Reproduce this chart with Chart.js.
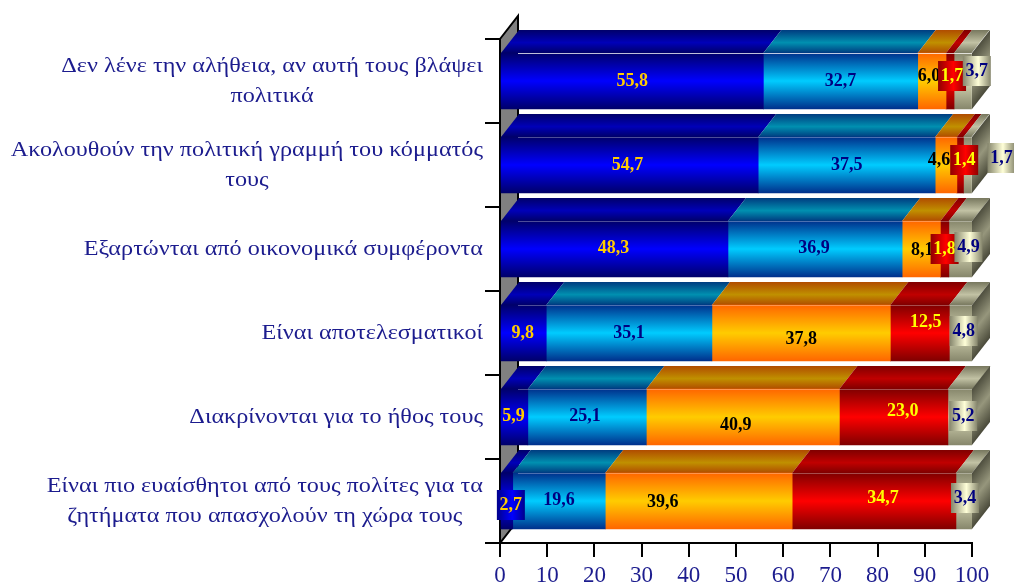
<!DOCTYPE html>
<html>
<head>
<meta charset="utf-8">
<style>
  html,body{margin:0;padding:0;background:#fff;}
  canvas{display:block;}
</style>
<script src="https://cdn.jsdelivr.net/npm/chart.js@4/dist/chart.umd.min.js"></script>
</head>
<body>
<canvas id="chart" width="1014" height="585"></canvas>
<script>
// categories, top to bottom
const categories = [
  ["Δεν λένε την αλήθεια, αν αυτή τους βλάψει","πολιτικά"],
  ["Ακολουθούν την πολιτική γραμμή του κόμματός","τους"],
  ["Εξαρτώνται από οικονομικά συμφέροντα"],
  ["Είναι αποτελεσματικοί"],
  ["Διακρίνονται για το ήθος τους"],
  ["Είναι πιο ευαίσθητοι από τους πολίτες για τα","ζητήματα που απασχολούν τη χώρα τους"]
];
const series1 = [55.8,54.7,48.3,9.8,5.9,2.7];
const series2 = [32.7,37.5,36.9,35.1,25.1,19.6];
const series3 = [6.0,4.6,8.1,37.8,40.9,39.6];
const series4 = [1.7,1.4,1.8,12.5,23.0,34.7];
const series5 = [3.7,1.7,4.9,4.8,5.2,3.4];
const xTicks = [0,10,20,30,40,50,60,70,80,90,100];

// colours: front edge, front middle, top edge, top middle, label text, box edge, box middle
const looks = [
  {edge:"#00006a",mid:"#0000ff",topE:"#00006a",topM:"#0000b8",text:"#ffcc00",boxE:"#00008c",boxM:"#0000ff"},
  {edge:"#00308c",mid:"#00ccff",topE:"#003c80",topM:"#0090b0",text:"#000080",boxE:"#00308c",boxM:"#00ccff"},
  {edge:"#ff6600",mid:"#ffcc00",topE:"#b04c00",topM:"#c09000",text:"#000000",boxE:"#ff6600",boxM:"#ffcc00"},
  {edge:"#800000",mid:"#ff0000",topE:"#800000",topM:"#c00000",text:"#ffff00",boxE:"#900000",boxM:"#ff0000"},
  {edge:"#87876c",mid:"#d6d6b4",topE:"#77775e",topM:"#c2c2a4",text:"#000080",boxE:"#85856c",boxM:"#ffffd8"}
];

// hand placed label shifts from the bar centre [dx,dy], the original has them dragged around
const labelShift = [
  [[0,0],[0,0],[-3,-5],[2,-5],[14,-10]],
  [[-2,0],[0,0],[-7,-5],[4,-5],[34,-7]],
  [[-1,-1],[-1,-1],[1,1],[0,0],[8,-2]],
  [[-1,0],[0,0],[0,6],[6,-11],[3,-2]],
  [[-1,-1],[-2,-1],[-7,8],[9,-6],[3,-1]],
  [[4,4],[0,-1],[-36,1],[9,-3],[1,-3]]
];

const DX = 18, DY = -23, BAR = 56;
const BLUE_TEXT = "#1c1c8e";

function frontGradient(chart,y,e,m){
  const g = chart.ctx.createLinearGradient(0,y,0,y+BAR);
  g.addColorStop(0,e); g.addColorStop(0.5,m); g.addColorStop(1,e);
  return g;
}

const allSeries = [series1,series2,series3,series4,series5];

const bars3d = {
  id:"bars3d",
  beforeDatasetsDraw(chart){
    const ctx = chart.ctx, a = chart.chartArea;
    // back wall
    ctx.save();
    ctx.beginPath();
    ctx.moveTo(a.left,a.top); ctx.lineTo(a.left+DX,a.top+DY);
    ctx.lineTo(a.left+DX,a.bottom+DY); ctx.lineTo(a.left,a.bottom);
    ctx.closePath();
    ctx.fillStyle = "#808080"; ctx.fill();
    ctx.strokeStyle = "#000"; ctx.lineWidth = 2; ctx.stroke();

    // top faces
    allSeries.forEach((s,i)=>{
      chart.getDatasetMeta(i).data.forEach(bar=>{
        const y = bar.y-BAR/2;
        const g = ctx.createLinearGradient(0,y+DY,0,y);
        g.addColorStop(0,looks[i].topE); g.addColorStop(0.55,looks[i].topM); g.addColorStop(1,looks[i].topE);
        ctx.beginPath();
        ctx.moveTo(bar.base,y); ctx.lineTo(bar.base+DX,y+DY);
        ctx.lineTo(bar.x+DX,y+DY); ctx.lineTo(bar.x,y);
        ctx.closePath();
        ctx.fillStyle = g; ctx.fill();
      });
    });
    // right end faces, the gradient runs along the skew
    chart.getDatasetMeta(4).data.forEach(bar=>{
      const y = bar.y-BAR/2;
      ctx.save();
      ctx.transform(1,DY/DX,0,1,a.right,y);
      const g = ctx.createLinearGradient(0,0,0,BAR);
      g.addColorStop(0,"#4e4e3e"); g.addColorStop(0.5,"#96967c"); g.addColorStop(1,"#4a4a3a");
      ctx.fillStyle = g;
      ctx.fillRect(0,0,DX,BAR);
      ctx.restore();
    });
    ctx.restore();
  },
  afterDatasetsDraw(chart){
    // thin light edge where the front meets the top
    const ctx = chart.ctx, a = chart.chartArea;
    ctx.save();
    chart.getDatasetMeta(0).data.forEach((bar,r)=>{
      const y = Math.round(bar.y-BAR/2)+0.5;
      ctx.strokeStyle = r===0 ? "rgba(255,255,255,0.75)" : "rgba(255,255,255,0.3)";
      ctx.lineWidth = 1;
      ctx.beginPath(); ctx.moveTo(a.left+DX,y); ctx.lineTo(a.right,y); ctx.stroke();
    });
    ctx.restore();
  },
  afterDraw(chart){
    const ctx = chart.ctx;
    ctx.save();
    // category labels: lines centred in a block that sits against the ticks
    // Liberation Serif is narrower than the original face, so stretch it a bit
    const yScale = chart.scales.y, stretch = 1.10;
    ctx.font = '22px "Liberation Serif"';
    ctx.fillStyle = BLUE_TEXT;
    ctx.textAlign = "center"; ctx.textBaseline = "middle";
    categories.forEach((lines,r)=>{
      const w = Math.max(...lines.map(l=>ctx.measureText(l).width))*stretch;
      const cx = 483-w/2, cy = yScale.getPixelForValue(r);
      lines.forEach((l,k)=>{
        ctx.save();
        ctx.translate(cx,cy+(k-(lines.length-1)/2)*30);
        ctx.scale(stretch,1);
        ctx.fillText(l,0,0);
        ctx.restore();
      });
    });
    // value labels
    ctx.font = 'bold 18px "Liberation Serif"';
    allSeries.forEach((s,i)=>{
      chart.getDatasetMeta(i).data.forEach((bar,r)=>{
        const sh = labelShift[r][i];
        const lx = (bar.base+bar.x)/2+sh[0], ly = bar.y+sh[1];
        if(i===4 || s[r]<3){
          const g = ctx.createLinearGradient(lx-14,0,lx+14,0);
          g.addColorStop(0,looks[i].boxE); g.addColorStop(0.55,looks[i].boxM); g.addColorStop(1,looks[i].boxE);
          ctx.fillStyle = g;
          ctx.fillRect(lx-14,ly-15,28,30);
        }
        ctx.fillStyle = looks[i].text;
        ctx.fillText(s[r].toFixed(1).replace(".",","),lx,ly);
      });
    });
    ctx.restore();
  }
};

new Chart(document.getElementById("chart"),{
  type:"bar",
  data:{
    labels:categories.map(c=>c.join(" ")),
    datasets:allSeries.map((s,i)=>({
      data:s,
      barThickness:BAR,
      backgroundColor:ctx=>{
        const yy = ctx.chart.scales.y;
        const top = yy && ctx.dataIndex!==undefined ? yy.getPixelForValue(ctx.dataIndex)-BAR/2 : NaN;
        // scale has no size yet on the first pass
        if(!ctx.chart.chartArea || !Number.isFinite(top)) return looks[i].mid;
        return frontGradient(ctx.chart,top,looks[i].edge,looks[i].mid);
      }
    }))
  },
  options:{
    indexAxis:"y",
    responsive:false,
    animation:false,
    layout:{padding:{top:39,right:42,left:0,bottom:0}},
    plugins:{legend:{display:false},tooltip:{enabled:false}},
    scales:{
      y:{
        stacked:true,
        z:1,
        afterFit:s=>{s.width=500;},
        border:{color:"#000",width:3},
        grid:{offset:true,drawOnChartArea:false,drawTicks:true,tickLength:15,color:"#000",lineWidth:2},
        ticks:{display:false}
      },
      x:{
        stacked:true,
        min:0,max:100,
        z:1,
        afterFit:s=>{s.height=42;},
        afterBuildTicks:s=>{s.ticks=xTicks.map(v=>({value:v}));},
        border:{color:"#000",width:2},
        grid:{drawOnChartArea:false,drawTicks:true,tickLength:14,color:"#000",lineWidth:2},
        ticks:{color:BLUE_TEXT,font:{family:"Liberation Serif",size:23},padding:5,maxRotation:0,autoSkip:false}
      }
    }
  },
  plugins:[bars3d]
});
</script>
</body>
</html>
